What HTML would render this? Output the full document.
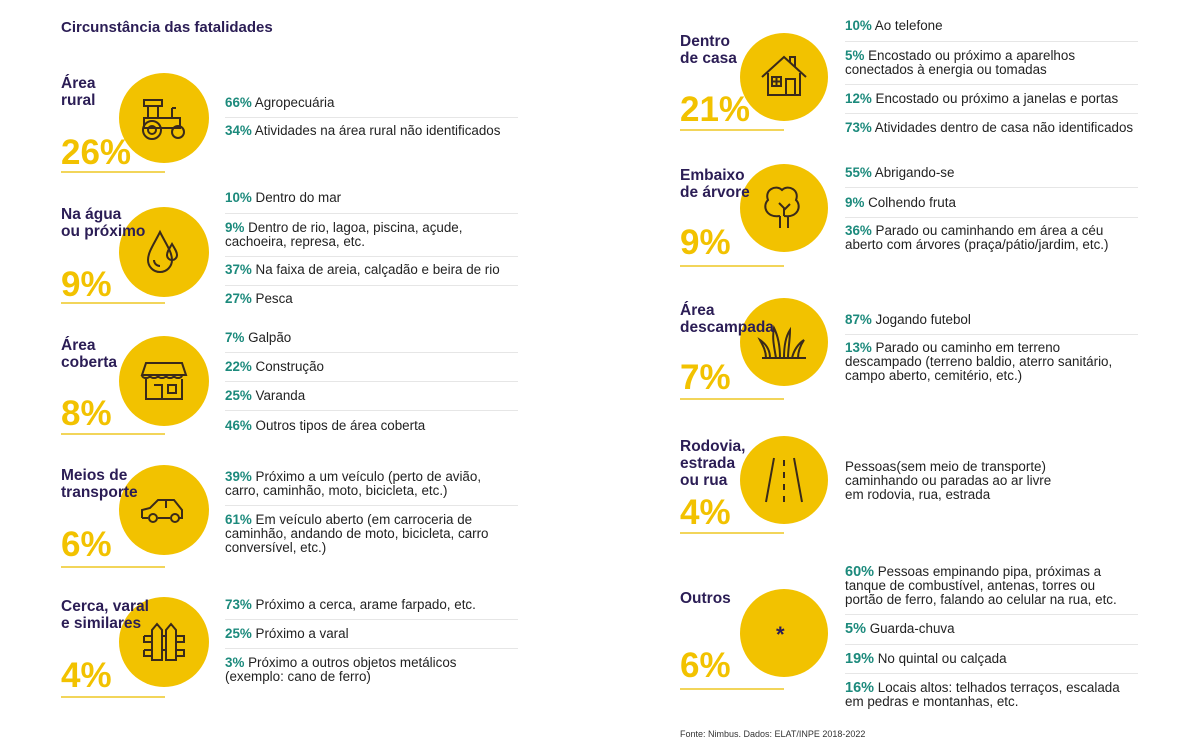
<!DOCTYPE html>
<html><head><meta charset="utf-8"><style>
body{margin:0;width:1200px;height:739px;background:#fff;position:relative;overflow:hidden;font-family:"Liberation Sans",sans-serif;}
.a{position:absolute;}
.c{position:absolute;width:90px;height:90px;border-radius:50%;background:#F2C200;}
.lb{position:absolute;font-weight:bold;font-size:15.5px;line-height:17px;color:#2b1d55;}
.pc{position:absolute;font-weight:bold;font-size:35px;line-height:32px;color:#F2C200;}
.ul{position:absolute;height:2px;width:104px;background:#F2D55a;}
.t{position:absolute;font-size:13.4px;line-height:14px;color:#222;}
.t b{color:#1c8a7c;}
.s{position:absolute;height:1px;background:#e6e6e6;width:293px;}
svg{position:absolute;}
</style></head><body>
<div class="lb" style="left:61px;top:19px;font-size:15px">Circunstância das fatalidades</div>

<!-- Left column -->
<div class="c" style="left:119px;top:73px"></div>
<svg style="left:134px;top:88px" width="60" height="60" viewBox="0 0 60 60" fill="none" stroke="#3a2a1a" stroke-width="2"><rect x="10" y="12" width="18" height="6"/><path d="M14 18v12M24 18v12M10 30h36v10H10z"/><path d="M38 30v-10M38 20h4"/><circle cx="18" cy="42" r="9"/><circle cx="18" cy="42" r="4"/><circle cx="44" cy="44" r="6"/></svg>
<div class="lb" style="left:61px;top:75px">Área<br>rural</div>
<div class="pc" style="left:61px;top:137px">26%</div>
<div class="ul" style="left:61px;top:171px"></div>
<div class="t" style="left:225px;top:96px"><b>66%</b> Agropecuária</div>
<div class="s" style="left:225px;top:117px"></div>
<div class="t" style="left:225px;top:124px"><b>34%</b> Atividades na área rural não identificados</div>

<div class="c" style="left:119px;top:207px"></div>
<svg style="left:134px;top:222px" width="60" height="60" viewBox="0 0 60 60" fill="none" stroke="#3a2a1a" stroke-width="2"><path d="M26 10C20 22 14 30 14 38a12 12 0 0 0 24 0c0-8-6-16-12-28z"/><path d="M20 38a6 6 0 0 0 6 6"/><path d="M38 22c-3 5-5 8-5 11a5 5 0 0 0 10 0c0-3-2-6-5-11z"/></svg>
<div class="lb" style="left:61px;top:206px">Na água<br>ou próximo</div>
<div class="pc" style="left:61px;top:269px">9%</div>
<div class="ul" style="left:61px;top:302px"></div>
<div class="t" style="left:225px;top:191px"><b>10%</b> Dentro do mar</div>
<div class="s" style="left:225px;top:213px"></div>
<div class="t" style="left:225px;top:221px"><b>9%</b> Dentro de rio, lagoa, piscina, açude,<br>cachoeira, represa, etc.</div>
<div class="s" style="left:225px;top:256px"></div>
<div class="t" style="left:225px;top:263px"><b>37%</b> Na faixa de areia, calçadão e beira de rio</div>
<div class="s" style="left:225px;top:285px"></div>
<div class="t" style="left:225px;top:292px"><b>27%</b> Pesca</div>

<div class="c" style="left:119px;top:336px"></div>
<svg style="left:134px;top:351px" width="60" height="60" viewBox="0 0 60 60" fill="none" stroke="#3a2a1a" stroke-width="2"><path d="M12 12h36l4 12H8z"/><path d="M8 24c0 4 8 4 8 0c0 4 8 4 8 0c0 4 8 4 8 0c0 4 8 4 8 0c0 4 8 4 8 0"/><path d="M12 28v20h36V28M20 34h8v14M34 34h8v8h-8z"/></svg>
<div class="lb" style="left:61px;top:337px">Área<br>coberta</div>
<div class="pc" style="left:61px;top:398px">8%</div>
<div class="ul" style="left:61px;top:433px"></div>
<div class="t" style="left:225px;top:331px"><b>7%</b> Galpão</div>
<div class="s" style="left:225px;top:352px"></div>
<div class="t" style="left:225px;top:360px"><b>22%</b> Construção</div>
<div class="s" style="left:225px;top:381px"></div>
<div class="t" style="left:225px;top:389px"><b>25%</b> Varanda</div>
<div class="s" style="left:225px;top:410px"></div>
<div class="t" style="left:225px;top:419px"><b>46%</b> Outros tipos de área coberta</div>

<div class="c" style="left:119px;top:465px"></div>
<svg style="left:134px;top:480px" width="60" height="60" viewBox="0 0 60 60" fill="none" stroke="#3a2a1a" stroke-width="2"><path d="M8 38v-8l8-2 8-8h16l8 10v8h-4M14 38h-6M24 38h12"/><circle cx="19" cy="38" r="4"/><circle cx="41" cy="38" r="4"/><path d="M32 20v8"/></svg>
<div class="lb" style="left:61px;top:467px">Meios de<br>transporte</div>
<div class="pc" style="left:61px;top:529px">6%</div>
<div class="ul" style="left:61px;top:566px"></div>
<div class="t" style="left:225px;top:470px"><b>39%</b> Próximo a um veículo (perto de avião,<br>carro, caminhão, moto, bicicleta, etc.)</div>
<div class="s" style="left:225px;top:505px"></div>
<div class="t" style="left:225px;top:513px"><b>61%</b> Em veículo aberto (em carroceria de<br>caminhão, andando de moto, bicicleta, carro<br>conversível, etc.)</div>

<div class="c" style="left:119px;top:597px"></div>
<svg style="left:134px;top:612px" width="60" height="60" viewBox="0 0 60 60" fill="none" stroke="#3a2a1a" stroke-width="2"><path d="M18 48V18l5-6 5 6v30zM32 48V18l5-6 5 6v30zM10 24h8M28 24h4M42 24h8v6h-8M10 24v6h8M10 38h8M28 38h4M42 38h8v6h-8M10 38v6h8"/></svg>
<div class="lb" style="left:61px;top:598px">Cerca, varal<br>e similares</div>
<div class="pc" style="left:61px;top:660px">4%</div>
<div class="ul" style="left:61px;top:696px"></div>
<div class="t" style="left:225px;top:598px"><b>73%</b> Próximo a cerca, arame farpado, etc.</div>
<div class="s" style="left:225px;top:619px"></div>
<div class="t" style="left:225px;top:627px"><b>25%</b> Próximo a varal</div>
<div class="s" style="left:225px;top:648px"></div>
<div class="t" style="left:225px;top:656px"><b>3%</b> Próximo a outros objetos metálicos<br>(exemplo: cano de ferro)</div>

<!-- Right column -->
<div class="c" style="left:740px;top:33px;width:88px;height:88px"></div>
<svg style="left:754px;top:47px" width="60" height="60" viewBox="0 0 60 60" fill="none" stroke="#3a2a1a" stroke-width="2"><path d="M8 30L30 10l22 20M14 26v22h32V26M36 16V10h5v10"/><rect x="18" y="30" width="9" height="9"/><path d="M22.5 30v9M18 34.5h9M32 48V32h9v16"/></svg>
<div class="lb" style="left:680px;top:33px">Dentro<br>de casa</div>
<div class="pc" style="left:680px;top:94px">21%</div>
<div class="ul" style="left:680px;top:129px"></div>
<div class="t" style="left:845px;top:19px"><b>10%</b> Ao telefone</div>
<div class="s" style="left:845px;top:41px"></div>
<div class="t" style="left:845px;top:49px"><b>5%</b> Encostado ou próximo a aparelhos<br>conectados à energia ou tomadas</div>
<div class="s" style="left:845px;top:84px"></div>
<div class="t" style="left:845px;top:92px"><b>12%</b> Encostado ou próximo a janelas e portas</div>
<div class="s" style="left:845px;top:113px"></div>
<div class="t" style="left:845px;top:121px"><b>73%</b> Atividades dentro de casa não identificados</div>

<div class="c" style="left:740px;top:164px;width:88px;height:88px"></div>
<svg style="left:754px;top:178px" width="60" height="60" viewBox="0 0 60 60" fill="none" stroke="#3a2a1a" stroke-width="2"><path d="M26 50V38M34 50V38M26 38c-14 2-18-10-12-16-4-10 8-16 14-10 6-6 18 0 14 10 6 6 2 18-12 16"/><path d="M30 38v-8l-5-5M30 32l6-6"/></svg>
<div class="lb" style="left:680px;top:167px">Embaixo<br>de árvore</div>
<div class="pc" style="left:680px;top:227px">9%</div>
<div class="ul" style="left:680px;top:265px"></div>
<div class="t" style="left:845px;top:166px"><b>55%</b> Abrigando-se</div>
<div class="s" style="left:845px;top:187px"></div>
<div class="t" style="left:845px;top:196px"><b>9%</b> Colhendo fruta</div>
<div class="s" style="left:845px;top:217px"></div>
<div class="t" style="left:845px;top:224px"><b>36%</b> Parado ou caminhando em área a céu<br>aberto com árvores (praça/pátio/jardim, etc.)</div>

<div class="c" style="left:740px;top:298px;width:88px;height:88px"></div>
<svg style="left:754px;top:312px" width="60" height="60" viewBox="0 0 60 60" fill="none" stroke="#3a2a1a" stroke-width="2"><path d="M8 46h44M12 46c0-8-4-14-6-18 6 4 10 10 10 18M22 46c-2-12-4-20-2-30 4 8 6 18 6 30M30 46c0-14 2-22 6-28 0 10-2 20-2 28M38 46c2-8 6-14 12-18-4 6-6 12-6 18"/></svg>
<div class="lb" style="left:680px;top:302px">Área<br>descampada</div>
<div class="pc" style="left:680px;top:362px">7%</div>
<div class="ul" style="left:680px;top:398px"></div>
<div class="t" style="left:845px;top:313px"><b>87%</b> Jogando futebol</div>
<div class="s" style="left:845px;top:334px"></div>
<div class="t" style="left:845px;top:341px"><b>13%</b> Parado ou caminho em terreno<br>descampado (terreno baldio, aterro sanitário,<br>campo aberto, cemitério, etc.)</div>

<div class="c" style="left:740px;top:436px;width:88px;height:88px"></div>
<svg style="left:754px;top:450px" width="60" height="60" viewBox="0 0 60 60" fill="none" stroke="#3a2a1a" stroke-width="2"><path d="M20 8L12 52M40 8l8 44M30 10v6M30 22v6M30 34v6M30 46v6"/></svg>
<div class="lb" style="left:680px;top:438px">Rodovia,<br>estrada<br>ou rua</div>
<div class="pc" style="left:680px;top:497px">4%</div>
<div class="ul" style="left:680px;top:532px"></div>
<div class="t" style="left:845px;top:460px">Pessoas(sem meio de transporte)<br>caminhando ou paradas ao ar livre<br>em rodovia, rua, estrada</div>

<div class="c" style="left:740px;top:589px;width:88px;height:88px"></div>
<div class="a" style="left:776px;top:622px;font-size:22px;font-weight:bold;color:#2b1d55">*</div>
<div class="lb" style="left:680px;top:590px">Outros</div>
<div class="pc" style="left:680px;top:650px">6%</div>
<div class="ul" style="left:680px;top:688px"></div>
<div class="t" style="left:845px;top:565px"><b style="font-size:14.5px">60%</b> Pessoas empinando pipa, próximas a<br>tanque de combustível, antenas, torres ou<br>portão de ferro, falando ao celular na rua, etc.</div>
<div class="s" style="left:845px;top:614px"></div>
<div class="t" style="left:845px;top:622px"><b style="font-size:14.5px">5%</b> Guarda-chuva</div>
<div class="s" style="left:845px;top:644px"></div>
<div class="t" style="left:845px;top:652px"><b style="font-size:14.5px">19%</b> No quintal ou calçada</div>
<div class="s" style="left:845px;top:673px"></div>
<div class="t" style="left:845px;top:681px"><b style="font-size:14.5px">16%</b> Locais altos: telhados terraços, escalada<br>em pedras e montanhas, etc.</div>

<div class="a" style="left:680px;top:729px;font-size:9px;color:#333">Fonte: Nimbus. Dados: ELAT/INPE 2018-2022</div>
</body></html>
